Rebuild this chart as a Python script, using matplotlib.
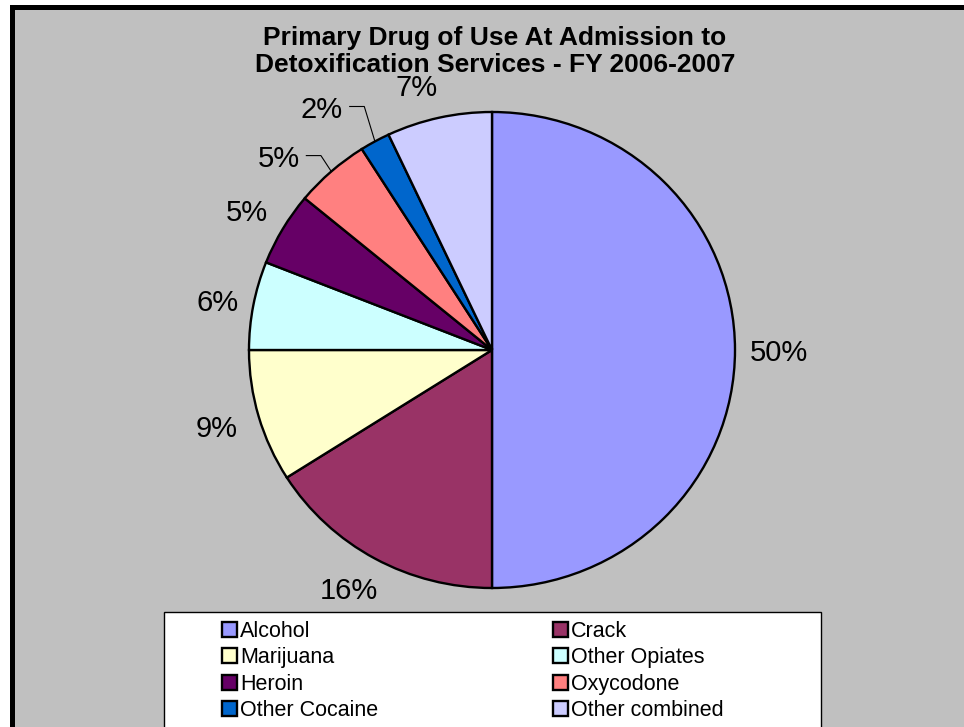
import numpy as np
import matplotlib.pyplot as plt
from matplotlib.patches import Rectangle

plt.rcParams['font.family'] = ['Liberation Sans', 'DejaVu Sans']

# data
drugs = ['Alcohol', 'Crack', 'Marijuana', 'Other Opiates', 'Heroin',
         'Oxycodone', 'Other Cocaine', 'Other combined']
shares = [50, 16, 9, 6, 5, 5, 2, 7]
colors = ['#9999FF', '#993366', '#FFFFCC', '#CCFFFF', '#660066',
          '#FF8080', '#0066CC', '#CCCCFF']
title_lines = ['Primary Drug of Use At Admission to',
               'Detoxification Services - FY 2006-2007']

# label placement (style): angle nudge in degrees, distance in radii
label_nudge = [0, -1.7, -0.6, 0.3, 0.3, 5.7, 5.6, 2.9]
label_dist = [1.18, 1.16, 1.175, 1.15, 1.17, 1.20, 1.24, 1.155]
leaders = [5, 6]

W, H = 964, 727
fig = plt.figure(figsize=(W / 100, H / 100), dpi=100)
fig.patch.set_facecolor('white')


def fx(x):
    return x / W


def fy(y):
    return 1 - y / H


# chart area with black border on top/left (runs off right and bottom)
fig.patches.append(Rectangle((fx(10), fy(740)), fx(970) - fx(10), fy(5) - fy(740),
                             transform=fig.transFigure, facecolor='black', zorder=-2))
fig.patches.append(Rectangle((fx(15), fy(740)), fx(970) - fx(15), fy(10) - fy(740),
                             transform=fig.transFigure, facecolor='#C0C0C0', zorder=-2))

# pie
cx, cy, rx, ry = 492, 350, 243, 238
ax = fig.add_axes([fx(cx - rx), fy(cy + ry), 2 * rx / W, 2 * ry / H])
wedges, _ = ax.pie(shares, colors=colors, startangle=90, counterclock=False,
                   radius=1, wedgeprops=dict(edgecolor='black', linewidth=1.7))
ax.set_aspect('auto')
ax.set_xlim(-1, 1)
ax.set_ylim(-1, 1)
ax.axis('off')

for i, w in enumerate(wedges):
    mid = (w.theta1 + w.theta2) / 2
    a = np.deg2rad(mid + label_nudge[i])
    lx = label_dist[i] * np.cos(a)
    ly = label_dist[i] * np.sin(a)
    ax.text(lx, ly - 0.014, f'{shares[i]}%', ha='center', va='center',
            fontsize=21, clip_on=False)
    if i in leaders:
        m = np.deg2rad(mid)
        ax.plot([lx + 0.115, lx + 0.175, np.cos(m)], [ly, ly, np.sin(m)],
                color='black', lw=0.8, clip_on=False)

# title
fig.text(fx(495), fy(45), title_lines[0], ha='center', va='baseline',
         fontsize=19, fontweight='bold')
fig.text(fx(495), fy(72), title_lines[1], ha='center', va='baseline',
         fontsize=19, fontweight='bold')

# legend box
fig.patches.append(Rectangle((fx(164), fy(740)), fx(821) - fx(164), fy(612) - fy(740),
                             transform=fig.transFigure, facecolor='white',
                             edgecolor='black', linewidth=1, zorder=1))

cols = [(222, [0, 2, 4, 6]), (553, [1, 3, 5, 7])]
for x0, idx in cols:
    leg = fig.legend([wedges[k] for k in idx], [drugs[k] for k in idx],
                     loc='upper left', bbox_to_anchor=(fx(x0), fy(621)),
                     frameon=False, fontsize=15.5, borderpad=0, borderaxespad=0,
                     handlelength=0.68, handleheight=0.68, handletextpad=0.15,
                     labelspacing=0.25)
    leg.set_zorder(2)

fig.savefig('out.png', dpi=100)
